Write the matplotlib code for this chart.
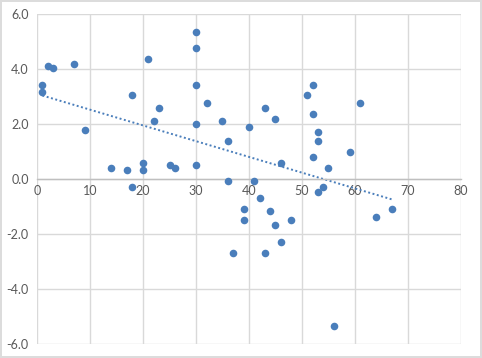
import numpy as np
import matplotlib.pyplot as plt

x_vals = [1, 1, 2, 3, 7, 9, 14, 17, 18, 18, 20, 20, 21, 22, 23, 25, 26,
          30, 30, 30, 30, 30, 32, 35, 36, 36, 37, 39, 39, 40, 41, 42, 43,
          43, 44, 45, 45, 46, 46, 48, 51, 52, 52, 52, 53, 53, 53, 54, 55,
          56, 59, 61, 64, 67]
y_vals = [3.42, 3.17, 4.11, 4.06, 4.2, 1.8, 0.39, 0.32, 3.08, -0.29, 0.6, 0.32,
          4.39, 2.1, 2.6, 0.5, 0.4, 5.37, 4.79, 3.41, 2.0, 0.5, 2.79, 2.1,
          1.4, -0.07, -2.67, -1.1, -1.5, 1.91, -0.08, -0.69, 2.6, -2.67,
          -1.17, 2.2, -1.68, 0.6, -2.27, -1.5, 3.08, 3.41, 2.39, 0.79, 1.7,
          1.4, -0.48, -0.3, 0.39, -5.36, 1.0, 2.79, -1.39, -1.1]
x_ticks = [0, 10, 20, 30, 40, 50, 60, 70, 80]
y_ticks = [-6.0, -4.0, -2.0, 0.0, 2.0, 4.0, 6.0]

blue = '#4a7ebb'
grid_col = '#d9d9d9'
text_col = '#595959'

plt.rcParams['font.family'] = ['Lato', 'DejaVu Sans']

fig = plt.figure(figsize=(4.82, 3.58), dpi=100)
fig.patch.set_edgecolor('#dcdcdc')
fig.patch.set_linewidth(1.5)
ax = fig.add_axes([0.077, 0.039, 0.879, 0.921])

ax.scatter(x_vals, y_vals, s=30, color=blue, zorder=3, linewidths=0)

# linear trendline over data range
xs = np.array(x_vals, dtype=float)
coef = np.polyfit(xs, np.array(y_vals), 1)
tx = np.array([xs.min(), xs.max()])
ax.plot(tx, np.polyval(coef, tx), linestyle=(0, (1, 1.3)), color=blue,
        linewidth=1.4, zorder=2)

ax.set_xlim(0, 80)
ax.set_ylim(-6, 6)
ax.set_xticks(x_ticks)
ax.set_yticks(y_ticks)
ax.set_yticklabels(['%.1f' % v for v in y_ticks])
ax.grid(True, color=grid_col, linewidth=1)
ax.set_axisbelow(True)

for s in ['top', 'right', 'left']:
    ax.spines[s].set_visible(False)
ax.spines['bottom'].set_position(('data', 0))
ax.spines['bottom'].set_color('#bfbfbf')
ax.spines['bottom'].set_linewidth(1)
ax.tick_params(length=0, labelsize=9, colors=text_col)
ax.tick_params(axis='x', pad=4)
ax.tick_params(axis='y', pad=6)

fig.savefig('out.png', dpi=100)
